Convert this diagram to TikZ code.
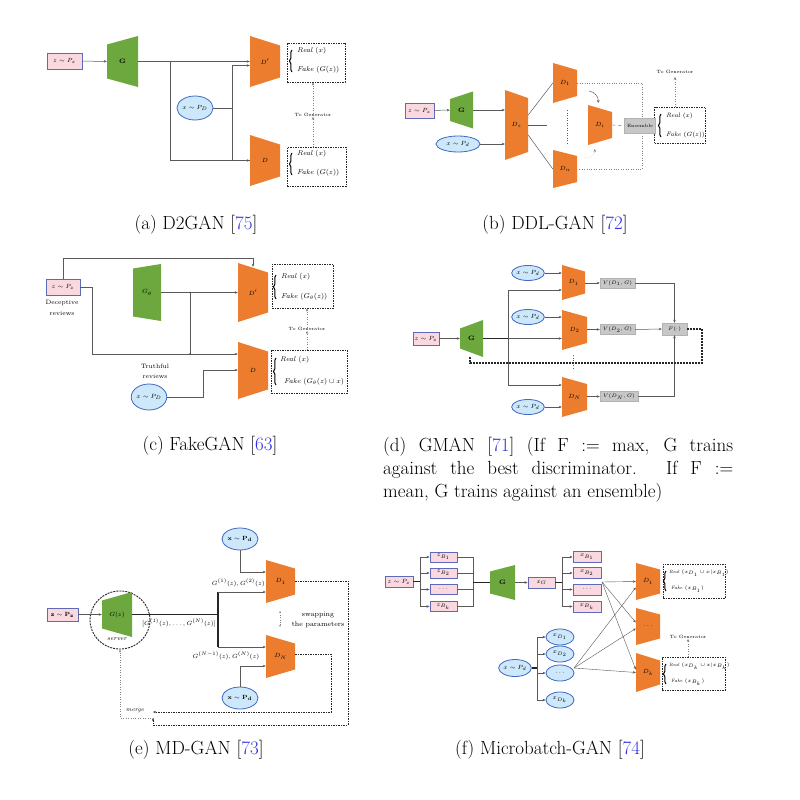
\documentclass[tikz,border=0pt]{standalone}
\usetikzlibrary{shapes.geometric,arrows.meta,decorations.pathreplacing,calc}
\definecolor{gfill}{RGB}{108,168,62}
\definecolor{ofill}{RGB}{236,125,46}
\definecolor{pinkf}{RGB}{250,216,224}
\definecolor{pinkd}{RGB}{96,104,186}
\definecolor{bluef}{RGB}{204,232,250}
\definecolor{blued}{RGB}{64,104,196}
\definecolor{citec}{RGB}{50,50,225}
\newcommand{\dsz}{\fontsize{6.3}{7.5}\selectfont}
\newcommand{\osz}{\fontsize{7}{8}\selectfont}
\newcommand{\tsz}{\fontsize{4.6}{5.5}\selectfont}
\newcommand{\trap}[8]{%
  \fill[#1] ({#3-#5},{#4-#6}) -- ({#3+#5},{#4-#7}) -- ({#3+#5},{#4+#7}) -- ({#3-#5},{#4+#6}) -- cycle;
  \node[tnode, minimum width={2*#5}, minimum height={2*max(#6,#7)}] (#2) at (#3,#4) {#8};}
\newcommand{\brc}[3]{\draw[brcs] (#1,#3) -- (#1,#2);}
\tikzset{
 ln/.style={draw=black!65, line width=0.5pt},
 arr/.style={ln, -{Stealth[length=3pt,width=2.5pt]}},
 thk/.style={draw=black!85, line width=1.1pt},
 zbox/.style={rectangle, draw=pinkd, fill=pinkf, line width=0.9pt, inner sep=0pt, font=\dsz},
 xell/.style={ellipse, draw=blued, fill=bluef, line width=0.8pt, inner sep=0pt, font=\dsz},
 obox/.style={rectangle, draw=black!85, line width=0.9pt, dash pattern=on 1.5pt off 1pt, inner sep=0pt},
 vbox/.style={rectangle, fill=black!22, draw=black!30, inner sep=0pt, font=\fontsize{5.5}{6.5}\selectfont},
 tnode/.style={inner sep=0pt, font=\dsz\bfseries},
 txt/.style={inner sep=0pt, font=\dsz},
 otxt/.style={inner sep=0pt, font=\osz, anchor=west},
 dotl/.style={draw=black!50, line width=0.45pt, dotted},
 brcs/.style={draw=black, decorate, decoration={brace, amplitude=2.5pt}, line width=1pt},
 captxt/.style={inner sep=0pt, font=\fontsize{19}{23}\selectfont},
 tgen/.style={inner sep=0pt, font=\tsz},
}
\begin{document}
\begin{tikzpicture}[x=1pt,y=-1pt]
\useasboundingbox (0,0) rectangle (800,800);
\fill[white] (0,0) rectangle (800,800);

% ================= (a) D2GAN =================
\node[zbox, minimum width=35, minimum height=16] (az) at (64.5,61) {$z\sim P_z$};
\trap{gfill}{aG}{122.5}{61.5}{15.5}{17}{25.5}{G}
\trap{ofill}{aD1}{265}{61.5}{15}{25.5}{16}{$D'$}
\trap{ofill}{aD2}{265}{160.5}{15}{25.5}{16}{$D$}
\node[xell, minimum width=36, minimum height=24] (ax) at (195,108) {$x\sim P_D$};
\coordinate (ab) at (170,61.5);
\coordinate (aj) at (232,108);
\draw[arr] (az) -- (aG);
\draw[arr] (aG.east) -- (aD1.west);
\draw[arr] (ab) |- (aD2.west);
\draw[ln] (ax.east) -- (aj);
\draw[arr] (aj) |- ($(aD1.west)+(0,4)$);
\draw[ln] (aj) |- (aD2.west);
\node[obox, minimum width=58, minimum height=39] (ao1) at (316,62.5) {};
\node[otxt] (ar1) at (297,51) {\textit{Real} $(x)$};
\node[otxt] (af1) at (297,70) {\textit{Fake} $(G(z))$};
\brc{292}{50}{72}
\node[obox, minimum width=59, minimum height=39] (ao2) at (316.5,166.5) {};
\node[otxt] (ar2) at (297,154) {\textit{Real} $(x)$};
\node[otxt] (af2) at (297,173) {\textit{Fake} $(G(z))$};
\brc{292}{153}{175}
\node[tgen] (atg) at (313,115) {To Generator};
\draw[arr, dotl] (ao2.north -| atg) -- (atg.south);
\draw[arr, dotl] (atg.north) -- (ao1.south -| atg);
\node[captxt] at (196,225) {(a) D2GAN [\textcolor{citec}{75}]};

% ================= (b) DDL-GAN =================
\node[zbox, minimum width=29, minimum height=15] (bz) at (419.5,110.5) {$z\sim P_z$};
\trap{gfill}{bG}{461.5}{110}{11.5}{11}{18.5}{G}
\node[xell, minimum width=44, minimum height=16] (bx) at (458,144) {$x\sim P_d$};
\trap{ofill}{bDs}{516.5}{125}{11.5}{35}{27}{$D_s$}
\trap{ofill}{bD1}{565}{83}{12}{20}{13}{$D_1$}
\trap{ofill}{bDn}{565}{169}{12}{19}{13}{$D_n$}
\trap{ofill}{bDi}{600}{125}{12}{20}{13}{$D_i$}
\draw[arr] (bz) -- (bG);
\draw[arr] (bG.east) -- (bDs.west |- bG.east);
\draw[arr] (bx.east) -- (bDs.west |- bx.east);
\draw[ln] ($(bDs.east)+(0,-10)$) -- (bD1.west);
\draw[ln] ($(bDs.east)+(0,10)$) -- (bDn.west);
\coordinate (bm) at (547,125);
\draw[ln] (bDs.east) -- (bm);
\coordinate (bv1) at (567,110);
\coordinate (bv2) at (567,143);
\draw[ln, dotted, line width=0.7pt] (bv1) -- (bv2);
\coordinate (bc) at (642,125);
\draw[dotl] (bD1.east) -| (bc) |- (bDn.east);
\draw[arr, line width=0.45pt] (589,91) to[bend left=45] (598,103);
\draw[arr, dotl] (584,158) to[bend right=45] (595,149);
\node[obox, minimum width=51, minimum height=36] (bo) at (680,125) {};
\node[vbox, minimum width=31, minimum height=15] (bE) at (640,125.5) {\tsz Ensemble};
\draw[ln, dashed, line width=0.4pt] (bDi.east) -- (bE.west);
\node[otxt, font=\dsz] at (666,116) {\textit{Real} $(x)$};
\node[otxt, font=\dsz] at (666,135) {\textit{Fake} $(G(z))$};
\brc{661}{114}{137}
\node[tgen] (btg) at (675,72) {To Generator};
\draw[arr, dotl] (bo.north -| btg) -- ($(btg.south)+(0,3)$);
\node[captxt] at (555,225) {(b) DDL-GAN [\textcolor{citec}{72}]};

% ================= (c) FakeGAN =================
\node[zbox, minimum width=34, minimum height=16] (cz) at (63,287) {$z\sim P_z$};
\node[txt] at (62,303) {Deceptive};
\node[txt] at (62,313) {reviews};
\trap{gfill}{cG}{147}{292.5}{14}{24}{28.5}{$G_\theta$}
\trap{ofill}{cD1}{253}{292.5}{15}{29.5}{20}{$D'$}
\trap{ofill}{cD2}{253}{370.5}{15}{28.5}{19}{$D$}
\node[xell, minimum width=33, minimum height=26] (cx) at (149,397) {$x\sim P_D$};
\node[txt] at (155,366) {Truthful};
\node[txt] at (155,376) {reviews};
\coordinate (ct) at (63,258);
\draw[arr] (cz.north) -- (ct) -| ($(cD1.north)+(0,4)$);
\coordinate (cl) at (92,287);
\coordinate (cb) at (92,354);
\draw[arr] (cz.east) -- (cl) -- (cb) -- (cD2.west |- cb);
\coordinate (cs) at (190,292.5);
\draw[arr] (cG.east) -- (cD1.west);
\draw[ln] (cs) -- (cs |- cb);
\fill[black!70] (cs) circle (0.9) (cs |- cb) circle (0.9);
\coordinate (cr) at (203,397);
\coordinate (cu) at (203,370);
\draw[arr] (cx.east) -- (cr) -- (cu) -- (cD2.west |- cu);
\node[obox, minimum width=61, minimum height=44] (co1) at (302.5,286) {};
\node[otxt] at (281,277) {\textit{Real} $(x)$};
\node[otxt] at (281,297) {\textit{Fake} $(G_\theta(z))$};
\brc{276}{275}{299}
\node[obox, minimum width=76, minimum height=43] (co2) at (309,371.5) {};
\node[otxt] at (280,360) {\textit{Real} $(x)$};
\node[otxt] at (284,382) {\textit{Fake} $(G_\theta(z)\cup x)$};
\brc{276}{358}{385}
\node[tgen] (ctg) at (307,329) {To Generator};
\draw[arr, dotl] (co2.north -| ctg) -- (ctg.south);
\draw[arr, dotl] (ctg.north) -- (co1.south -| ctg);
\node[captxt] at (210,446) {(c) FakeGAN [\textcolor{citec}{63}]};

% ================= (d) GMAN =================
\node[zbox, minimum width=26, minimum height=13] (dz) at (426,338.5) {$z\sim P_z$};
\trap{gfill}{dG}{471.5}{338.5}{11.5}{10}{18.5}{G}
\node[xell, minimum width=28, minimum height=15] (de1) at (528,273) {$x\sim P_d$};
\node[xell, minimum width=28, minimum height=15] (de2) at (528,317) {$x\sim P_d$};
\node[xell, minimum width=28, minimum height=15] (de3) at (528,407) {$x\sim P_d$};
\trap{ofill}{dD1}{573.5}{282.5}{11.5}{17.5}{11}{$D_1$}
\trap{ofill}{dD2}{574.5}{330}{12.5}{20}{13}{$D_2$}
\trap{ofill}{dD3}{574.5}{397}{12.5}{20}{13}{$D_N$}
\draw[ln, dotted, line width=0.8pt] (573,355) -- (573,368);
\node[vbox, minimum width=35, minimum height=10] (dV1) at (617.5,283) {$V(D_1,G)$};
\node[vbox, minimum width=35, minimum height=10] (dV2) at (617.5,329.5) {$V(D_2,G)$};
\node[vbox, minimum width=38, minimum height=10] (dV3) at (619,396.5) {$V(D_N,G)$};
\node[vbox, minimum width=25, minimum height=12] (dF) at (674.5,329) {$F(\cdot)$};
\draw[arr] (dz) -- (dG);
\coordinate (dj) at (508,338.5);
\coordinate (dt) at (508,290);
\coordinate (db) at (508,385);
\draw[thk] (dG.east) -- (dj);
\draw[ln] (dt) -- (db);
\draw[arr] (dt) -- (dD1.west |- dt);
\draw[arr] (dj) -- (dD2.west |- dj);
\draw[arr] (db) -- (dD3.west |- db);
\draw[arr] (de1.east) -- (dD1.west |- de1.east);
\draw[arr] (de2.east) -- (dD2.west |- de2.east);
\draw[arr] (de3.east) -- (dD3.west |- de3.east);
\draw[arr] (dD1.east |- dV1) -- (dV1.west);
\draw[arr] (dD2.east |- dV2) -- (dV2.west);
\draw[arr] (dD3.east |- dV3) -- (dV3.west);
\draw[arr] (dV1.east) -| (dF.north);
\draw[arr] (dV2.east) -- (dF.west);
\draw[arr] (dV3.east) -| (dF.south);
\coordinate (dr) at (702,329);
\coordinate (dq) at (702,363);
\coordinate (dp) at (470,363);
\draw[black!85, line width=1.2pt, dash pattern=on 2pt off 1pt] (dF.east) -- (dr) -- (dq) -- (dp) -- (dG.south -| dp);
\node[captxt, anchor=north west, text width=350, align=justify] at (383,437) {(d) GMAN [\textcolor{citec}{71}] (If F := max, G trains\linebreak against the best discriminator. If F :=\linebreak mean, G trains against an ensemble)};

% ================= (e) MD-GAN =================
\node[zbox, minimum width=31, minimum height=13] (ez) at (62.5,614.5) {$\mathbf{z\sim P_z}$};
\node[ellipse, draw=black!85, line width=0.9pt, dash pattern=on 2pt off 1pt, minimum width=60, minimum height=58, inner sep=0pt] (ec) at (120,620) {};
\trap{gfill}{eG}{117}{614.5}{15}{14}{22.5}{$G(z)$}
\node[txt, font=\dsz\itshape] at (117,639) {server};
\draw[arr] (ez.east) -- (eG.west);
\coordinate (ej) at (218,614.5);
\coordinate (et) at (218,592);
\coordinate (eb) at (218,647);
\draw[thk] (eG.east) -- (ej);
\draw[thk] (et) -- (eb);
\node[txt, font=\fontsize{5.8}{6.5}\selectfont, anchor=east] at (216,623) {$[G^{(1)}(z),\ldots,G^{(N)}(z)]$};
\trap{ofill}{eD1}{280.5}{581.5}{14.5}{21.5}{13}{$D_1$}
\trap{ofill}{eD2}{280.5}{656.5}{14.5}{21.5}{13}{$D_N$}
\draw[arr] (et) -- (eD1.west |- et);
\draw[arr] (eb) -- (eD2.west |- eb);
\node[txt, font=\fontsize{5.8}{6.5}\selectfont, anchor=east] at (265,583) {$G^{(1)}(z),G^{(2)}(z)$};
\node[txt, font=\fontsize{5.8}{6.5}\selectfont] at (226,656) {$G^{(N-1)}(z),G^{(N)}(z)$};
\node[xell, minimum width=36, minimum height=22] (ex1) at (240,539) {$\mathbf{x\sim P_d}$};
\node[xell, minimum width=36, minimum height=22] (ex2) at (240,698) {$\mathbf{x\sim P_d}$};
\coordinate (ek1) at (240,572);
\coordinate (ek2) at (240,666);
\draw[arr] (ex1.south) -- (ek1) -- (eD1.west |- ek1);
\draw[arr] (ex2.north) -- (ek2) -- (eD2.west |- ek2);
\draw[{Stealth[length=2pt]}-{Stealth[length=2pt]}, dotl] (280,611) -- (280,627);
\node[txt, font=\fontsize{7}{8}\selectfont] at (318,615) {swapping};
\node[txt, font=\fontsize{7}{8}\selectfont] at (318,625) {the parameters};
\coordinate (em) at (153,718);
\coordinate (ea1) at (348,581);
\coordinate (ea2) at (348,725);
\coordinate (eb1) at (331,654);
\coordinate (eb2) at (331,712);
\draw[black!85, line width=1pt, dash pattern=on 1.5pt off 1pt, -{Stealth[length=3pt]}] (eD1.east |- ea1) -- (ea1) -- (ea2) -| (em);
\draw[black!85, line width=1pt, dash pattern=on 1.5pt off 1pt, -{Stealth[length=3pt]}] (eD2.east |- eb1) -- (eb1) -- (eb2) -- (em |- eb2);
\node[txt, font=\fontsize{6}{7}\selectfont\itshape] at (135,711) {merge};
\coordinate (el) at (120,718);
\draw[dotl, line width=0.6pt, -{Stealth[length=3pt]}] (em) -- (el) -- (ec.south);
\node[captxt] at (196,750) {(e) MD-GAN [\textcolor{citec}{73}]};

% ================= (f) Microbatch-GAN =================
\node[zbox, minimum width=28, minimum height=11] (fz) at (399,581.5) {$z\sim P_z$};
\node[zbox, minimum width=27, minimum height=10] (fzb1) at (443.5,557) {$z_{B_1}$};
\node[zbox, minimum width=27, minimum height=10] (fzb2) at (443.5,573) {$z_{B_2}$};
\node[zbox, minimum width=27, minimum height=10] (fzb3) at (443.5,589.5) {$\ldots$};
\node[zbox, minimum width=27, minimum height=10] (fzb4) at (443.5,606.5) {$z_{B_k}$};
\coordinate (fl) at (420,581.5);
\draw[thk] (fz.east) -- (fl);
\draw[ln] (420,557) -- (420,606.5);
\foreach \n in {1,2,3,4} {\draw[arr] (fl |- fzb\n) -- (fzb\n.west);}
\coordinate (fr) at (473,582.5);
\draw[ln] (473,557) -- (473,606.5);
\foreach \n in {1,2,3,4} {\draw[ln] (fzb\n.east) -- (fr |- fzb\n);}
\trap{gfill}{fG}{502.5}{582.5}{12.5}{11}{17.5}{G}
\draw[thk] (fr) -- (fG.west);
\node[zbox, minimum width=27, minimum height=11] (fxg) at (541.5,582.5) {$x_G$};
\draw[arr] (fG.east) -- (fxg.west);
\node[zbox, minimum width=28, minimum height=11] (fxb1) at (587,557) {$x_{B_1}$};
\node[zbox, minimum width=28, minimum height=11] (fxb2) at (587,573) {$x_{B_2}$};
\node[zbox, minimum width=28, minimum height=11] (fxb3) at (587,589.5) {$\ldots$};
\node[zbox, minimum width=28, minimum height=11] (fxb4) at (587,606.5) {$x_{B_k}$};
\coordinate (fm) at (562,582.5);
\draw[thk] (fxg.east) -- (fm);
\draw[ln] (562,557) -- (562,606.5);
\foreach \n in {1,2,3,4} {\draw[arr] (fm |- fxb\n) -- (fxb\n.west);}
\trap{ofill}{fD1}{648}{581.5}{12}{18.5}{12}{$D_1$}
\trap{ofill}{fD2}{648}{626.5}{12}{18.5}{12}{$\ldots$}
\trap{ofill}{fD3}{648}{672.5}{12}{19.5}{12}{$D_k$}
\node[xell, minimum width=32, minimum height=17] (fx) at (515,668) {$x\sim P_d$};
\node[xell, minimum width=28, minimum height=16] (fe1) at (560,637) {$x_{D_1}$};
\node[xell, minimum width=28, minimum height=16] (fe2) at (560,654) {$x_{D_2}$};
\node[xell, minimum width=28, minimum height=16] (fe3) at (560,673) {$\ldots$};
\node[xell, minimum width=28, minimum height=16] (fe4) at (560,700) {$x_{D_k}$};
\coordinate (fk) at (537,668);
\draw[thk] (fx.east) -- (fk);
\draw[ln] (537,637) -- (537,700);
\foreach \n in {1,2,3,4} {\draw[arr] (fk |- fe\n) -- (fe\n.west);}
\coordinate (fs1) at (602,582);
\coordinate (fs2) at (574,668);
\draw[arr, line width=0.4pt] (fs1) -- (fD1.west);
\draw[arr, line width=0.4pt] (fs1) -- ($(fD2.west)+(0,-4)$);
\draw[arr, line width=0.4pt] (fs1) -- ($(fD3.west)+(0,-3)$);
\draw[arr, line width=0.4pt] (fs2) -- ($(fD1.west)+(0,6)$);
\draw[arr, line width=0.4pt] (fs2) -- ($(fD2.west)+(0,2)$);
\draw[arr, line width=0.4pt] (fs2) -- (fD3.west);
\node[obox, minimum width=62, minimum height=34] (fo1) at (694,581) {};
\node[otxt, font=\fontsize{4.6}{5.5}\selectfont] at (669,573) {\textit{Real} $(x_{D_1}\cup x|x_{B_1})$};
\node[otxt, font=\fontsize{4.8}{5.5}\selectfont] at (671,589) {\textit{Fake} $(x_{B_1})$};
\brc{666}{571}{591}
\node[obox, minimum width=63, minimum height=33] (fo2) at (693.5,673.5) {};
\node[otxt, font=\fontsize{4.6}{5.5}\selectfont] at (669,666) {\textit{Real} $(x_{D_k}\cup x|x_{B_k})$};
\node[otxt, font=\fontsize{4.8}{5.5}\selectfont] at (671,682) {\textit{Fake} $(x_{B_k})$};
\brc{666}{664}{684}
\node[tgen] (ftg) at (688,637) {To Generator};
\draw[arr, dotl] (fo2.north -| ftg) -- (ftg.south);
\node[captxt] at (550,750) {(f) Microbatch-GAN [\textcolor{citec}{74}]};
\end{tikzpicture}
\end{document}
